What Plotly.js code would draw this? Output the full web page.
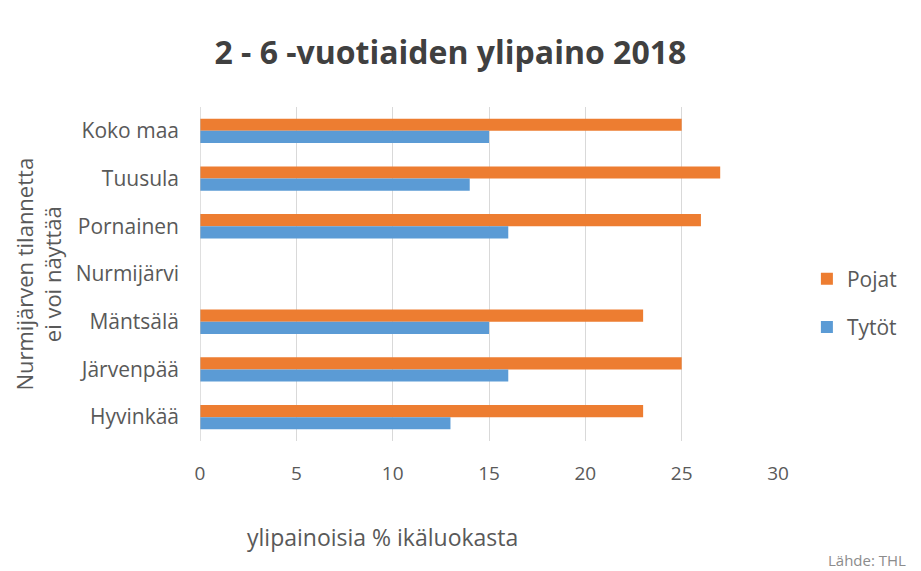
<!DOCTYPE html>
<html>
<head>
<meta charset="utf-8">
<script src="https://cdn.plot.ly/plotly-3.0.1.min.js"></script>
<style>html,body{margin:0;padding:0;background:#fff;}#chart{width:921px;height:571px;}</style>
</head>
<body>
<div id="chart"></div>
<script>
const categories = ["Koko maa", "Tuusula", "Pornainen", "Nurmijärvi", "Mäntsälä", "Järvenpää", "Hyvinkää"];
const pojat = [25, 27, 26, null, 23, 25, 23];
const tytot = [15, 14, 16, null, 15, 16, 13];
const xTicks = [0, 5, 10, 15, 20, 25, 30];

const font = "'Open Sans', 'Noto Sans', sans-serif";

const data = [
  {type: "bar", orientation: "h", name: "Pojat", y: categories, x: pojat,
   marker: {color: "#ED7D31"}, legendgroup: "a", hoverinfo: "x+y"},
  {type: "bar", orientation: "h", name: "Tytöt", y: categories, x: tytot,
   marker: {color: "#5B9BD5"}, legendgroup: "b", hoverinfo: "x+y"}
];

const layout = {
  width: 921, height: 571,
  paper_bgcolor: "#fff", plot_bgcolor: "#fff",
  margin: {l: 200, r: 143, t: 107, b: 130},
  barmode: "group", bargap: 0.49, bargroupgap: 0,
  font: {family: font, color: "#595959", size: 15},
  title: {text: "<b>2 - 6 -vuotiaiden ylipaino 2018</b>", x: 0.489, xanchor: "center", y: 0.907, yanchor: "middle",
          font: {family: font, size: 32, color: "#404040"}},
  xaxis: {range: [0, 30], tickvals: xTicks, ticktext: xTicks.map(String), showgrid: true, gridcolor: "#d9d9d9",
          gridwidth: 1, zeroline: false, showline: false, ticks: "", ticklabelstandoff: 19,
          tickfont: {size: 19, color: "#595959"}, fixedrange: true},
  yaxis: {type: "category", autorange: "reversed", showgrid: false, zeroline: false, showline: false,
          ticks: "", ticklabelstandoff: 20, tickfont: {size: 21, color: "#595959"}, fixedrange: true},
  shapes: [{type: "line", xref: "x", yref: "paper", x0: 0, x1: 0, y0: 0, y1: 1, line: {color: "#bfbfbf", width: 1}}],
  legend: {x: 1.05, xanchor: "left", y: 0.413, yanchor: "middle", traceorder: "grouped", tracegroupgap: 18,
           itemwidth: 30, font: {size: 21, color: "#595959"}, bgcolor: "rgba(0,0,0,0)"},
  annotations: [
    {text: "Nurmijärven tilannetta<br>ei voi näyttää", xref: "paper", yref: "paper", x: -0.281, y: 0.5,
     xanchor: "center", yanchor: "middle", textangle: -90, showarrow: false,
     font: {size: 22, color: "#595959"}},
    {text: "ylipainoisia % ikäluokasta", xref: "paper", yref: "paper", x: 0.078, y: -0.287,
     xanchor: "left", yanchor: "middle", showarrow: false, font: {size: 23, color: "#595959"}},
    {text: "Lähde: THL", xref: "paper", yref: "paper", x: 1.225, y: -0.356,
     xanchor: "right", yanchor: "middle", showarrow: false, font: {size: 15, color: "#8c8c8c"}}
  ]
};

Plotly.newPlot("chart", data, layout, {displayModeBar: false, staticPlot: true});
</script>
</body>
</html>
